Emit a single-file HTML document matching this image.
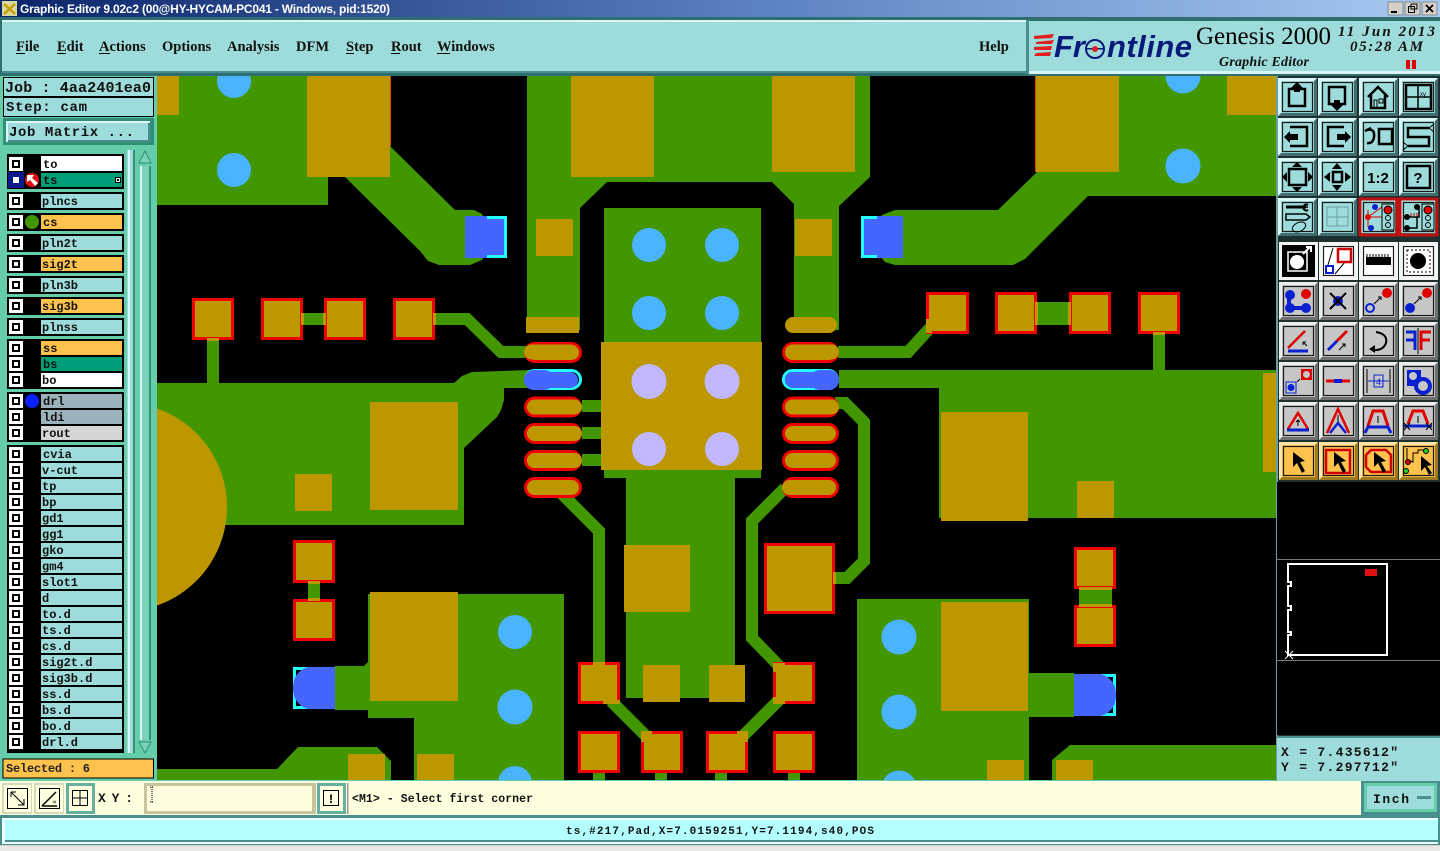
<!DOCTYPE html>
<html>
<head>
<meta charset="utf-8">
<title>Graphic Editor</title>
<style>
html,body{margin:0;padding:0;background:#d4d0c8;overflow:hidden}
svg{display:block}
.m{font-family:"Liberation Mono",monospace;font-weight:bold}
.s{font-family:"Liberation Serif",serif}
.mi{font-family:"Liberation Serif",serif;font-weight:bold;font-size:14.5px;fill:#111}
.l{font-family:"Liberation Mono",monospace;font-weight:bold;font-size:12px;fill:#111}
.i{fill:none;stroke:#000;stroke-width:2.5}
</style>
</head>
<body>
<svg width="1440" height="851" viewBox="0 0 1440 851" xmlns="http://www.w3.org/2000/svg">
<defs>
<linearGradient id="tg" x1="0" x2="1" y1="0" y2="0"><stop offset="0" stop-color="#0a246a"/><stop offset="0.55" stop-color="#5f86c4"/><stop offset="1" stop-color="#a6caf0"/></linearGradient>
<clipPath id="cv"><rect x="157" y="76" width="1119" height="704"/></clipPath>
<symbol id="bT" width="40" height="39" overflow="visible"><rect width="39" height="38" fill="#3f6f6f"/><polygon points="0,0 39,0 36,3 3,3 3,35 0,38" fill="#d9f5f5"/><rect x="3" y="3" width="33" height="32" fill="#9edcdc"/><rect x="4.5" y="4.5" width="30" height="29" fill="none" stroke="#1a1a1a" stroke-width="1.2"/></symbol>
<symbol id="bG" width="40" height="39" overflow="visible"><rect width="39" height="38" fill="#707070"/><polygon points="0,0 39,0 36,3 3,3 3,35 0,38" fill="#ececec"/><rect x="3" y="3" width="33" height="32" fill="#c6c6c6"/><rect x="4.5" y="4.5" width="30" height="29" fill="none" stroke="#1a1a1a" stroke-width="1.2"/></symbol>
<symbol id="bW" width="40" height="39" overflow="visible"><rect width="39" height="38" fill="#f4f4f4"/><rect x="3" y="3" width="33" height="32" fill="#fff"/><rect x="4.5" y="4.5" width="30" height="29" fill="none" stroke="#1a1a1a" stroke-width="1.2"/></symbol>
<symbol id="bO" width="40" height="39" overflow="visible"><rect width="39" height="38" fill="#a07a20"/><polygon points="0,0 39,0 36,3 3,3 3,35 0,38" fill="#ffe6a8"/><rect x="3" y="3" width="33" height="32" fill="#ffc24d"/><rect x="4.5" y="4.5" width="30" height="29" fill="none" stroke="#1a1a1a" stroke-width="1.2"/></symbol>
<symbol id="c" width="14" height="14"><rect width="14" height="14" fill="#fff"/><rect x="3" y="3" width="8" height="8" fill="#000"/><rect x="5" y="5" width="4" height="4" fill="#fff"/></symbol>
</defs>

<!-- page background -->
<rect width="1440" height="851" fill="#66cdaa"/>

<!-- title bar -->
<rect width="1440" height="17" fill="url(#tg)"/>
<rect x="2" y="1" width="15" height="15" fill="#d8d8a0"/>
<path d="M4 4 L15 14 M15 4 L4 14" stroke="#c8a000" stroke-width="2.5"/>
<text x="20" y="13" font-family="Liberation Sans, sans-serif" font-weight="bold" font-size="12" fill="#fff" textLength="370">Graphic Editor 9.02c2 (00@HY-HYCAM-PC041 - Windows, pid:1520)</text>
<g>
<rect x="1388" y="2" width="15" height="13" fill="#d4d0c8" stroke="#555" stroke-width="0.5"/><rect x="1391" y="11" width="6" height="2" fill="#000"/>
<rect x="1405" y="2" width="15" height="13" fill="#d4d0c8" stroke="#555" stroke-width="0.5"/><rect x="1408.5" y="6.5" width="6" height="6" fill="none" stroke="#000"/><rect x="1411" y="4" width="6" height="5" fill="none" stroke="#000"/>
<rect x="1422" y="2" width="15" height="13" fill="#d4d0c8" stroke="#555" stroke-width="0.5"/><path d="M1426 5 L1433 12 M1433 5 L1426 12" stroke="#000" stroke-width="1.8"/>
</g>

<!-- menu bar -->
<rect x="0" y="17" width="1440" height="59" fill="#2f6f6f"/>
<rect x="2" y="20" width="1024" height="53" fill="#9edcdc"/>
<rect x="2" y="20" width="1024" height="2" fill="#d9f5f5"/>
<rect x="2" y="71" width="1024" height="2" fill="#4a8f8f"/>
<rect x="1029" y="21" width="411" height="52" fill="#9edcdc"/>
<rect x="1029" y="71" width="411" height="3" fill="#d9f5f5"/>
<rect x="1026" y="20" width="3" height="54" fill="#4a8f8f"/>
<g class="mi">
<text class="mi" x="16" y="51">File</text><rect x="16" y="53" width="9" height="1" fill="#000"/>
<text class="mi" x="57" y="51">Edit</text><rect x="57" y="53" width="9" height="1" fill="#000"/>
<text class="mi" x="99" y="51">Actions</text><rect x="99" y="53" width="11" height="1" fill="#000"/>
<text class="mi" x="162" y="51">Options</text>
<text class="mi" x="227" y="51">Analysis</text>
<text class="mi" x="296" y="51">DFM</text>
<text class="mi" x="346" y="51">Step</text><rect x="346" y="53" width="8" height="1" fill="#000"/>
<text class="mi" x="391" y="51">Rout</text><rect x="391" y="53" width="9" height="1" fill="#000"/>
<text class="mi" x="437" y="51">Windows</text><rect x="437" y="53" width="13" height="1" fill="#000"/>
<text class="mi" x="979" y="51">Help</text>
</g>

<!-- logo -->
<g fill="#e32020">
<polygon points="1034,36 1054,34 1052,38 1034,39"/>
<polygon points="1036,42 1054,40 1052,44 1036,44"/>
<polygon points="1034,47 1052,46 1051,50 1034,50"/>
<polygon points="1036,53 1051,52 1050,56 1034,56"/>
</g>
<text x="1054" y="57" font-family="Liberation Sans, sans-serif" font-weight="bold" font-style="italic" font-size="31" fill="#0a1a7a">Fr</text>
<circle cx="1095" cy="49" r="9" fill="none" stroke="#0a1a7a" stroke-width="2"/>
<rect x="1085" y="48" width="20" height="1.5" fill="#0a1a7a"/>
<circle cx="1095" cy="49" r="3" fill="#e32020"/>
<text x="1107" y="57" font-family="Liberation Sans, sans-serif" font-weight="bold" font-style="italic" font-size="31" fill="#0a1a7a" textLength="85">ntline</text>
<text x="1196" y="44" class="s" font-size="25" fill="#000" textLength="135">Genesis 2000</text>
<text x="1219" y="66" class="s" font-size="14" font-weight="bold" font-style="italic" fill="#111" textLength="90">Graphic Editor</text>
<text x="1338" y="36" class="s" font-size="15" font-weight="bold" font-style="italic" fill="#111" textLength="97">11 Jun 2013</text>
<text x="1350" y="51" class="s" font-size="15" font-weight="bold" font-style="italic" fill="#111" textLength="73">05:28 AM</text>
<rect x="1406" y="60" width="4" height="9" fill="#e00000"/><rect x="1412" y="60" width="4" height="9" fill="#e00000"/>

<!-- left panel -->
<rect x="0" y="76" width="157" height="705" fill="#66cdaa"/>
<rect x="3" y="77" width="151" height="40" fill="#000"/>
<rect x="4" y="78" width="149" height="18" fill="#9edcdc"/>
<rect x="4" y="98" width="149" height="18" fill="#9edcdc"/>
<text x="5" y="92" class="m" font-size="15" fill="#111" textLength="146">Job : 4aa2401ea0</text>
<text x="6" y="111" class="m" font-size="14" fill="#111" textLength="81">Step: cam</text>
<rect x="3" y="118" width="151" height="27" fill="#2f8f78"/>
<rect x="6" y="121" width="144" height="21" fill="#d9f5f5"/>
<rect x="8" y="123" width="142" height="19" fill="#4a8f8f"/>
<rect x="8" y="123" width="140" height="17" fill="#9edcdc"/>
<text x="9" y="136" class="m" font-size="14" fill="#111" textLength="125">Job Matrix ...</text>

<!-- list frame -->
<rect x="4" y="149" width="124" height="604" fill="#66cdaa"/>
<rect x="127" y="150" width="8" height="603" fill="#9edcdc"/>
<rect x="128" y="150" width="2" height="603" fill="#d9f5f5"/>
<rect x="133" y="150" width="2" height="603" fill="#2f8f78"/>
<rect x="136" y="150" width="18" height="603" fill="#66cdaa"/>
<rect x="140" y="166" width="11" height="574" fill="#7ad2b8"/>
<rect x="140" y="166" width="2" height="574" fill="#d9f5f5"/>
<rect x="149" y="166" width="2" height="574" fill="#2f8f78"/>
<polygon points="145,151 151,163 139,163" fill="#7ad2b8" stroke="#2f8f78"/>
<polygon points="145,753 151,742 139,742" fill="#7ad2b8" stroke="#2f8f78"/>

<!-- layer groups -->
<g fill="#000">
<rect x="7" y="154" width="117" height="35"/>
<rect x="7" y="192" width="117" height="18"/>
<rect x="7" y="213" width="117" height="18"/>
<rect x="7" y="234" width="117" height="18"/>
<rect x="7" y="255" width="117" height="18"/>
<rect x="7" y="276" width="117" height="18"/>
<rect x="7" y="297" width="117" height="18"/>
<rect x="7" y="318" width="117" height="18"/>
<rect x="7" y="339" width="117" height="50"/>
<rect x="7" y="392" width="117" height="50"/>
<rect x="7" y="445" width="117" height="308"/>
</g>
<g>
<rect x="41" y="156" width="81" height="15" fill="#fff"/>
<rect x="41" y="173" width="81" height="14" fill="#009e78"/>
<rect x="41" y="194" width="81" height="14" fill="#9edcdc"/>
<rect x="41" y="215" width="81" height="14" fill="#ffc24d"/>
<rect x="41" y="236" width="81" height="14" fill="#9edcdc"/>
<rect x="41" y="257" width="81" height="14" fill="#ffc24d"/>
<rect x="41" y="278" width="81" height="14" fill="#9edcdc"/>
<rect x="41" y="299" width="81" height="14" fill="#ffc24d"/>
<rect x="41" y="320" width="81" height="14" fill="#9edcdc"/>
<rect x="41" y="341" width="81" height="14" fill="#ffc24d"/>
<rect x="41" y="357" width="81" height="14" fill="#009e78"/>
<rect x="41" y="373" width="81" height="14" fill="#fff"/>
<rect x="41" y="394" width="81" height="14" fill="#9cb2bb"/>
<rect x="41" y="410" width="81" height="14" fill="#9cb2bb"/>
<rect x="41" y="426" width="81" height="14" fill="#d6d6d6"/>
<rect x="41" y="447" width="81" height="14" fill="#9edcdc"/>
<rect x="41" y="463" width="81" height="14" fill="#9edcdc"/>
<rect x="41" y="479" width="81" height="14" fill="#9edcdc"/>
<rect x="41" y="495" width="81" height="14" fill="#9edcdc"/>
<rect x="41" y="511" width="81" height="14" fill="#9edcdc"/>
<rect x="41" y="527" width="81" height="14" fill="#9edcdc"/>
<rect x="41" y="543" width="81" height="14" fill="#9edcdc"/>
<rect x="41" y="559" width="81" height="14" fill="#9edcdc"/>
<rect x="41" y="575" width="81" height="14" fill="#9edcdc"/>
<rect x="41" y="591" width="81" height="14" fill="#9edcdc"/>
<rect x="41" y="607" width="81" height="14" fill="#9edcdc"/>
<rect x="41" y="623" width="81" height="14" fill="#9edcdc"/>
<rect x="41" y="639" width="81" height="14" fill="#9edcdc"/>
<rect x="41" y="655" width="81" height="14" fill="#9edcdc"/>
<rect x="41" y="671" width="81" height="14" fill="#9edcdc"/>
<rect x="41" y="687" width="81" height="14" fill="#9edcdc"/>
<rect x="41" y="703" width="81" height="14" fill="#9edcdc"/>
<rect x="41" y="719" width="81" height="14" fill="#9edcdc"/>
<rect x="41" y="735" width="81" height="14" fill="#9edcdc"/>
</g>
<g>
<use href="#c" x="9" y="157"/><use href="#c" x="9" y="173"/><use href="#c" x="9" y="194"/><use href="#c" x="9" y="215"/><use href="#c" x="9" y="236"/><use href="#c" x="9" y="257"/><use href="#c" x="9" y="278"/><use href="#c" x="9" y="299"/><use href="#c" x="9" y="320"/><use href="#c" x="9" y="341"/><use href="#c" x="9" y="357"/><use href="#c" x="9" y="373"/><use href="#c" x="9" y="394"/><use href="#c" x="9" y="410"/><use href="#c" x="9" y="426"/><use href="#c" x="9" y="447"/><use href="#c" x="9" y="463"/><use href="#c" x="9" y="479"/><use href="#c" x="9" y="495"/><use href="#c" x="9" y="511"/><use href="#c" x="9" y="527"/><use href="#c" x="9" y="543"/><use href="#c" x="9" y="559"/><use href="#c" x="9" y="575"/><use href="#c" x="9" y="591"/><use href="#c" x="9" y="607"/><use href="#c" x="9" y="623"/><use href="#c" x="9" y="639"/><use href="#c" x="9" y="655"/><use href="#c" x="9" y="671"/><use href="#c" x="9" y="687"/><use href="#c" x="9" y="703"/><use href="#c" x="9" y="719"/><use href="#c" x="9" y="735"/>
</g>
<!-- ts selected box & icons -->
<rect x="8" y="172" width="16" height="16" fill="#0a1a8a"/><rect x="13" y="177" width="6" height="6" fill="#fff"/>
<circle cx="32" cy="180" r="7" fill="#e01010"/>
<polygon points="27,175 34,175 32,178 38,183 35,186 30,180 27,182" fill="#fff"/>
<circle cx="32" cy="222" r="7" fill="#429600"/>
<circle cx="32" cy="401" r="7" fill="#0a20ff"/>
<rect x="115" y="177" width="6" height="6" fill="#000"/><rect x="116" y="178" width="4" height="4" fill="#eee"/><rect x="117" y="179" width="2" height="2" fill="#000"/>
<g>
<text class="l" x="43" y="168">to</text>
<text class="l" x="43" y="184">ts</text>
<text class="l" x="42" y="205">plncs</text>
<text class="l" x="43" y="226">cs</text>
<text class="l" x="42" y="247">pln2t</text>
<text class="l" x="42" y="268">sig2t</text>
<text class="l" x="42" y="289">pln3b</text>
<text class="l" x="42" y="310">sig3b</text>
<text class="l" x="42" y="331">plnss</text>
<text class="l" x="43" y="352">ss</text>
<text class="l" x="43" y="368">bs</text>
<text class="l" x="42" y="384">bo</text>
<text class="l" x="43" y="405">drl</text>
<text class="l" x="43" y="421">ldi</text>
<text class="l" x="42" y="437">rout</text>
<text class="l" x="43" y="458">cvia</text>
<text class="l" x="42" y="474">v-cut</text>
<text class="l" x="42" y="490">tp</text>
<text class="l" x="42" y="506">bp</text>
<text class="l" x="42" y="522">gd1</text>
<text class="l" x="42" y="538">gg1</text>
<text class="l" x="42" y="554">gko</text>
<text class="l" x="42" y="570">gm4</text>
<text class="l" x="42" y="586">slot1</text>
<text class="l" x="42" y="602">d</text>
<text class="l" x="42" y="618">to.d</text>
<text class="l" x="42" y="634">ts.d</text>
<text class="l" x="42" y="650">cs.d</text>
<text class="l" x="42" y="666">sig2t.d</text>
<text class="l" x="42" y="682">sig3b.d</text>
<text class="l" x="42" y="698">ss.d</text>
<text class="l" x="42" y="714">bs.d</text>
<text class="l" x="42" y="730">bo.d</text>
<text class="l" x="42" y="746">drl.d</text>
</g>
<rect x="3" y="759" width="150.500" height="19" fill="#ffc24d" stroke="#000" stroke-width="1"/>
<text x="6" y="772" class="m" font-size="12" fill="#222" textLength="84">Selected : 6</text>

<!-- CANVAS -->
<rect x="157" y="76" width="1119" height="704" fill="#000"/>
<g clip-path="url(#cv)">
<!-- green -->
<g fill="#429600">
<polygon points="157,76 390,76 390,146 455,210 474,210 482,214 487,225 487,250 482,260 470,265 439,265 428,261 420,251 345,177 328,177 328,205 157,205"/>
<polygon points="527,76 870,76 870,177 839,206 839,330 794,330 794,204 772,182 607,182 580,208 580,330 527,330"/>
<rect x="604" y="208" width="157" height="135"/>
<polygon points="157,383 454,383 462,376 472,372 530,370 530,388 504,388 504,400 501,410 497,417 464,448 464,525 157,525"/>
<polygon points="1037,172 1276,172 1276,196 1088,196 1025,259 1013,265 895,265 885,262 878,254 877,225 882,215 895,210 998,210"/>
<rect x="1037" y="76" width="239" height="120"/>
<rect x="839" y="370" width="437" height="18"/>
<rect x="939" y="370" width="337" height="148"/>
<rect x="604" y="470" width="157" height="8"/>
<rect x="626" y="478" width="109" height="220"/>
<polygon points="368,594 564,594 564,780 414,780 414,718 368,718 368,710 335,710 335,666 364,666 368,662"/>
<polygon points="157,769 277,769 298,747 377,747 391,761 391,780 157,780"/>
<polygon points="857,599 1029,599 1029,673 1074,673 1074,717 1029,717 1029,780 857,780"/>
<polygon points="1052,760 1070,745 1276,745 1276,780 1052,780"/>
<rect x="1079" y="589" width="33" height="16"/>
<rect x="308" y="583" width="12" height="16"/>
<rect x="207" y="340" width="12" height="43"/>
<rect x="303" y="313" width="21" height="12"/>
<rect x="1037" y="302" width="32" height="23"/>
<rect x="1153" y="334" width="12" height="36"/>
<rect x="582" y="400" width="19" height="12"/>
<rect x="582" y="427" width="19" height="12"/>
<rect x="582" y="454" width="19" height="12"/>
<rect x="593" y="773" width="12" height="7"/><rect x="655" y="773" width="12" height="7"/><rect x="715" y="773" width="12" height="7"/><rect x="788" y="773" width="12" height="7"/>
</g>
<g fill="none" stroke="#429600" stroke-width="12" stroke-linejoin="miter">
<polyline points="435,319 467,319 501,352 530,352"/>
<polyline points="560,492 599,531 599,670"/>
<polyline points="785,488 752,521 752,638 785,672"/>
<polyline points="835,578 847,578 864,561 864,422 845,403 835,403"/>
<polyline points="611,701 647,737"/>
<polyline points="779,700 742,737"/>
<polyline points="838,352 908,352 930,328"/>
</g>

<!-- red pads -->
<g fill="#bd9700" stroke="#f00000" stroke-width="3">
<rect x="193.500" y="299.500" width="39" height="39"/>
<rect x="262.500" y="299.500" width="39" height="39"/>
<rect x="325.500" y="299.500" width="39" height="39"/>
<rect x="394.500" y="299.500" width="39" height="39"/>
<rect x="927.500" y="293.500" width="40" height="39"/>
<rect x="996.500" y="293.500" width="39" height="39"/>
<rect x="1070.500" y="293.500" width="39" height="39"/>
<rect x="1139.500" y="293.500" width="39" height="39"/>
<rect x="294.500" y="541.500" width="39" height="40"/>
<rect x="294.500" y="600.500" width="39" height="39"/>
<rect x="1075.500" y="548.500" width="39" height="39"/>
<rect x="1075.500" y="606.500" width="39" height="39"/>
<rect x="765.500" y="544.500" width="68" height="68"/>
<rect x="579.500" y="663.500" width="39" height="39"/>
<rect x="774.500" y="663.500" width="39" height="39"/>
<rect x="579.500" y="732.500" width="39" height="39"/>
<rect x="642.500" y="732.500" width="39" height="39"/>
<rect x="707.500" y="732.500" width="39" height="39"/>
<rect x="774.500" y="732.500" width="39" height="39"/>
<rect x="525.500" y="343.500" width="55" height="18" rx="9"/>
<rect x="525.500" y="398" width="55" height="18" rx="9"/>
<rect x="525.500" y="424.500" width="55" height="18" rx="9"/>
<rect x="525.500" y="451.500" width="55" height="18" rx="9"/>
<rect x="525.500" y="478.500" width="55" height="18" rx="9"/>
<rect x="783.500" y="343.500" width="54" height="18" rx="9"/>
<rect x="783.500" y="398" width="54" height="18" rx="9"/>
<rect x="783.500" y="424.500" width="54" height="18" rx="9"/>
<rect x="783.500" y="451.500" width="54" height="18" rx="9"/>
<rect x="783.500" y="478.500" width="54" height="18" rx="9"/>
</g>

<!-- tan copper -->
<rect x="306" y="76" width="85" height="102" fill="none"/>
<rect x="390" y="76" width="1" height="70" fill="#e04000"/>
<rect x="1035" y="76" width="1" height="96" fill="#e04000"/>
<g fill="#bd9700">
<rect x="157" y="76" width="22" height="39"/>
<rect x="307" y="76" width="83" height="101"/>
<rect x="571" y="76" width="83" height="101"/>
<rect x="772" y="76" width="83" height="96"/>
<rect x="1036" y="76" width="83" height="96"/>
<rect x="1227" y="76" width="49" height="39"/>
<rect x="536" y="219" width="37" height="37"/>
<rect x="795" y="219" width="37" height="37"/>
<rect x="526" y="317" width="53" height="16"/>
<rect x="785" y="317" width="52" height="16" rx="8"/>
<rect x="601" y="342" width="161" height="128"/>
<rect x="370" y="402" width="88" height="108"/>
<rect x="295" y="474" width="37" height="37"/>
<rect x="941" y="412" width="87" height="109"/>
<rect x="1077" y="481" width="37" height="37"/>
<rect x="1263" y="373" width="13" height="99"/>
<rect x="624" y="545" width="66" height="67"/>
<rect x="370" y="592" width="88" height="109"/>
<rect x="941" y="602" width="87" height="109"/>
<rect x="643" y="665" width="37" height="37"/>
<rect x="709" y="665" width="36" height="37"/>
<rect x="348" y="754" width="37" height="26"/>
<rect x="417" y="754" width="37" height="26"/>
<rect x="987" y="760" width="37" height="20"/>
<rect x="1056" y="760" width="37" height="20"/>
<circle cx="122.700" cy="507" r="104.300"/>
<rect x="207" y="338" width="12" height="3"/>
<rect x="1153" y="332" width="12" height="3"/>
<rect x="926" y="319" width="6" height="14"/>
<rect x="301" y="313" width="3" height="12"/>
<rect x="323" y="313" width="3" height="12"/>
<rect x="433" y="313" width="3" height="12"/>
<rect x="1035" y="302" width="3" height="23"/>
<rect x="1068" y="302" width="3" height="23"/>
<rect x="308" y="581" width="12" height="3"/>
<rect x="308" y="598" width="12" height="3"/>
<rect x="1079" y="587" width="33" height="3"/>
<rect x="1079" y="604" width="33" height="3"/>
<rect x="773" y="663" width="12" height="9"/>
<rect x="773" y="697" width="12" height="7"/>
<rect x="603" y="700" width="17" height="4"/>
<rect x="641" y="731" width="11" height="11"/>
<rect x="737" y="731" width="11" height="11"/>
<rect x="833" y="572" width="3" height="12"/>
<rect x="593" y="662" width="12" height="3"/>
<!-- capsule fills that overlap the red outline -->
<rect x="524" y="344.500" width="54" height="15" rx="7.500"/>
<rect x="527" y="399.500" width="55" height="15" rx="7.500"/>
<rect x="527" y="426" width="55" height="15" rx="7.500"/>
<rect x="527" y="453" width="55" height="15" rx="7.500"/>
<rect x="785" y="344.500" width="54" height="15" rx="7.500"/>
<rect x="785" y="399.500" width="54" height="15" rx="7.500"/>
<rect x="782" y="480" width="54" height="15" rx="7.500"/>
</g>

<!-- selected cyan / blue -->
<g fill="none" stroke="#22ffff" stroke-width="3">
<rect x="466.500" y="217.500" width="39" height="39"/>
<rect x="862.500" y="217.500" width="39" height="39"/>
<rect x="525.500" y="370.500" width="55" height="18" rx="9"/>
<rect x="783.500" y="370.500" width="54" height="18" rx="9"/>
<rect x="294.500" y="668.500" width="39" height="39"/>
<rect x="1075.500" y="675.500" width="39" height="39"/>
</g>
<g fill="#4466ff">
<path d="M465,216 H487 V219 H504 V255 H487 V258 H465 Z"/>
<path d="M903,216 H877 V219 H864 V255 H877 V258 H903 Z"/>
<rect x="524" y="372" width="54" height="16" rx="8"/>
<rect x="524" y="370" width="30" height="20" rx="10"/>
<rect x="785" y="372" width="54" height="16" rx="8"/>
<rect x="810" y="370" width="29" height="20" rx="10"/>
<path d="M335,667 L308,667 Q293,672 293,688 Q293,704 308,709 L335,709 Z"/>
<path d="M1074,674 L1101,674 Q1116,679 1116,695 Q1116,711 1101,716 L1074,716 Z"/>
</g>

<!-- vias -->
<g fill="#4ab4ff">
<circle cx="234" cy="81" r="17"/><circle cx="234" cy="170" r="17"/>
<circle cx="649" cy="245" r="17"/><circle cx="722" cy="245" r="17"/>
<circle cx="649" cy="313" r="17"/><circle cx="722" cy="313" r="17"/>
<circle cx="1183" cy="76" r="17.500"/><circle cx="1183" cy="166" r="17.500"/>
<circle cx="515" cy="632" r="17"/><circle cx="515" cy="707" r="17.500"/><circle cx="515" cy="783" r="17"/>
<circle cx="899" cy="637" r="17.500"/><circle cx="899" cy="712" r="17.500"/><circle cx="899" cy="788" r="17.500"/>
</g>
<g fill="#c2b8ff">
<circle cx="649" cy="381.500" r="17.500"/><circle cx="722" cy="381.500" r="17.500"/>
<circle cx="649" cy="449" r="17"/><circle cx="722" cy="449" r="17"/>
</g>
</g>

<!-- right panel -->
<rect x="1276" y="76" width="164" height="705" fill="#1d2f2f"/>
<rect x="1276" y="76" width="2" height="705" fill="#66a0a0"/>

<g>
<use href="#bT" x="1278" y="78"/><use href="#bT" x="1318" y="78"/><use href="#bT" x="1359" y="78"/><use href="#bT" x="1399" y="78"/>
<use href="#bT" x="1278" y="118"/><use href="#bT" x="1318" y="118"/><use href="#bT" x="1359" y="118"/><use href="#bT" x="1399" y="118"/>
<use href="#bT" x="1278" y="158"/><use href="#bT" x="1318" y="158"/><use href="#bT" x="1359" y="158"/><use href="#bT" x="1399" y="158"/>
<use href="#bT" x="1278" y="198"/><use href="#bT" x="1318" y="198"/><use href="#bT" x="1359" y="198"/><use href="#bT" x="1399" y="198"/>
<use href="#bW" x="1279" y="242"/><use href="#bW" x="1319" y="242"/><use href="#bW" x="1359" y="242"/><use href="#bW" x="1399" y="242"/>
<use href="#bG" x="1279" y="282"/><use href="#bG" x="1319" y="282"/><use href="#bG" x="1359" y="282"/><use href="#bG" x="1399" y="282"/>
<use href="#bG" x="1279" y="322"/><use href="#bG" x="1319" y="322"/><use href="#bG" x="1359" y="322"/><use href="#bG" x="1399" y="322"/>
<use href="#bG" x="1279" y="362"/><use href="#bG" x="1319" y="362"/><use href="#bG" x="1359" y="362"/><use href="#bG" x="1399" y="362"/>
<use href="#bG" x="1279" y="402"/><use href="#bG" x="1319" y="402"/><use href="#bG" x="1359" y="402"/><use href="#bG" x="1399" y="402"/>
<use href="#bO" x="1279" y="442"/><use href="#bO" x="1319" y="442"/><use href="#bO" x="1359" y="442"/><use href="#bO" x="1399" y="442"/>
</g>

<!-- icons row 1 -->
<g transform="translate(1278,78)"><rect class="i" x="11" y="11" width="16" height="17"/><polygon points="19,4 25,10 22,10 22,14 16,14 16,10 13,10"/></g>
<g transform="translate(1318,78)"><rect class="i" x="11" y="9" width="16" height="17"/><polygon points="19,33 25,27 22,27 22,22 16,22 16,27 13,27"/></g>
<g transform="translate(1359,78)"><path class="i" d="M9 19 L19 9 L29 19 M12 17 V30 H26 V17" stroke-width="1.8"/><rect x="15" y="22" width="3" height="8" fill="none" stroke="#000"/><rect x="20" y="21" width="4" height="4" fill="none" stroke="#000"/></g>
<g transform="translate(1399,78)"><rect class="i" x="7" y="7" width="25" height="24"/><path d="M19 8 V30 M8 19 H31" stroke="#000" stroke-width="1.5"/><text x="21" y="18" font-family="Liberation Sans,sans-serif" font-size="6" fill="#000">xy</text></g>
<!-- row 2 -->
<g transform="translate(1278,118)"><path class="i" d="M12 9 H29 V28 H12"/><polygon points="6,19 12,13 12,16 20,16 20,22 12,22 12,25"/></g>
<g transform="translate(1318,118)"><path class="i" d="M26 9 H10 V28 H26"/><polygon points="33,19 27,13 27,16 19,16 19,22 27,22 27,25"/></g>
<g transform="translate(1359,118)"><rect class="i" x="20" y="11" width="13" height="15"/><path d="M6 13 L12 10 M8 12 Q16 10 15 19 Q14 26 8 25" fill="none" stroke="#000" stroke-width="2.5"/></g>
<g transform="translate(1399,118)"><path class="i" d="M30 10 H9 V19 H30 V28 H9"/><path d="M30 10 L35 6 M30 10 L35 14 M9 28 L4 24 M9 28 L4 32" stroke="#000" fill="none"/></g>
<!-- row 3 -->
<g transform="translate(1278,158)"><rect class="i" x="11" y="11" width="17" height="16"/><polygon points="19,4 24,9 14,9"/><polygon points="19,34 24,29 14,29"/><polygon points="4,19 9,14 9,24"/><polygon points="35,19 30,14 30,24"/></g>
<g transform="translate(1318,158)"><rect class="i" x="15" y="14" width="9" height="10"/><polygon points="19,5 24,11 14,11"/><polygon points="19,33 24,27 14,27"/><polygon points="6,19 12,14 12,24"/><polygon points="33,19 27,14 27,24"/></g>
<g transform="translate(1359,158)"><text x="19" y="25" text-anchor="middle" font-family="Liberation Sans,sans-serif" font-weight="bold" font-size="15" fill="#000">1:2</text></g>
<g transform="translate(1399,158)"><rect class="i" x="8" y="8" width="23" height="22"/><text x="19" y="25" text-anchor="middle" font-family="Liberation Sans,sans-serif" font-weight="bold" font-size="15" fill="#000">?</text></g>
<!-- row 4 -->
<g transform="translate(1278,198)"><path d="M8 9 H30 M8 16 H28 L32 19 L28 22 H8 Z" fill="none" stroke="#000" stroke-width="1.5"/><path d="M8 9 H28" stroke="#000" stroke-width="3"/><path d="M30 7 a3 3 0 1 0 0 5" fill="none" stroke="#000" stroke-width="2"/><ellipse cx="21" cy="29" rx="7" ry="4.500" fill="none" stroke="#000" transform="rotate(-25 21 29)"/></g>
<g transform="translate(1318,198)"><path d="M9 9 H30 M9 19 H30 M9 28 H30 M9 9 V28 M19 9 V28 M30 9 V28" stroke="#6c9c9c" fill="none"/></g>
<g transform="translate(1359,198)"><rect x="1" y="1" width="37" height="36" fill="none" stroke="#c01010" stroke-width="3"/><path d="M9 12 V29 M9 19 H23 V30 M9 19 L23 9" stroke="#d00000" fill="none"/><circle cx="9" cy="19" r="3" fill="#e00000"/><circle cx="16" cy="9" r="3" fill="#0a20d0"/><circle cx="12" cy="30" r="3" fill="#0a20d0"/><rect x="23" y="6" width="12" height="26" fill="#9edcdc" stroke="#000"/><circle cx="29" cy="12" r="4" fill="#e00000" stroke="#000"/><circle cx="29" cy="20" r="2.500" fill="none" stroke="#000"/><circle cx="29" cy="27" r="2.500" fill="none" stroke="#000"/></g>
<g transform="translate(1399,198)"><rect x="1" y="1" width="37" height="36" fill="none" stroke="#c01010" stroke-width="3"/><path d="M8 19 H20 V9 M8 30 H18 V19" stroke="#000" fill="none" stroke-width="1.5"/><circle cx="8" cy="19" r="3"/><circle cx="18" cy="9" r="3"/><circle cx="8" cy="30" r="3"/><path d="M12 15 V18 M15 15 V18 M18 15 V18" stroke="#d00000"/><rect x="23" y="6" width="12" height="26" fill="#9edcdc" stroke="#000"/><circle cx="29" cy="12" r="4" fill="#e00000" stroke="#000"/><circle cx="29" cy="20" r="2.500" fill="none" stroke="#000"/><circle cx="29" cy="27" r="2.500" fill="none" stroke="#000"/></g>

<!-- white row -->
<g transform="translate(1279,242)"><rect x="3" y="3" width="33" height="32" fill="#000"/><rect x="9" y="10" width="19" height="19" fill="none" stroke="#fff" stroke-width="1.5"/><circle cx="18" cy="20" r="7" fill="#fff"/><path d="M24 12 L31 5 M27 5 H32 V10" stroke="#fff" stroke-width="2" fill="none"/></g>
<g transform="translate(1319,242)"><path d="M14 6 L8 26 M31 14 L16 32" stroke="#000"/><rect x="19" y="7" width="13" height="13" fill="#fff" stroke="#d00000" stroke-width="2.500"/><rect x="7" y="24" width="7" height="7" fill="#fff" stroke="#0a20d0" stroke-width="2"/></g>
<g transform="translate(1359,242)"><rect x="7" y="15" width="25" height="8" fill="#000"/><path d="M8 12 V16 M11 12 V16 M14 12 V16 M17 12 V16 M20 12 V16 M23 12 V16 M26 12 V16 M29 12 V16" stroke="#000"/></g>
<g transform="translate(1399,242)"><rect x="8" y="8" width="23" height="22" fill="none" stroke="#000" stroke-dasharray="2,2"/><circle cx="19" cy="19" r="8" fill="#000"/></g>
<!-- row 2 grey -->
<g transform="translate(1279,282)"><path d="M10 13 V26 H26" stroke="#0a20d0" stroke-width="4" fill="none"/><circle cx="11" cy="13" r="5" fill="#0a20d0"/><circle cx="11" cy="26" r="5" fill="#0a20d0"/><circle cx="27" cy="26" r="5" fill="#0a20d0"/><circle cx="27" cy="12" r="5" fill="#e00000"/></g>
<g transform="translate(1319,282)"><circle cx="19" cy="19" r="5" fill="#0a20d0"/><path d="M11 11 L27 27 M27 11 L11 27" stroke="#000" stroke-width="2"/></g>
<g transform="translate(1359,282)"><circle cx="11" cy="26" r="4" fill="none" stroke="#0a20d0" stroke-width="2"/><circle cx="28" cy="11" r="5" fill="#e00000"/><path d="M15 22 L22 15 M19 15 H22 V18" stroke="#000" fill="none"/></g>
<g transform="translate(1399,282)"><circle cx="11" cy="26" r="5" fill="#0a20d0"/><circle cx="28" cy="11" r="5" fill="#e00000"/><path d="M15 22 L22 15 M19 15 H22 V18" stroke="#000" fill="none"/></g>
<!-- row 3 grey -->
<g transform="translate(1279,322)"><path d="M9 26 L26 9" stroke="#e00000" stroke-width="2.500"/><path d="M9 29 H29" stroke="#0a20d0" stroke-width="3"/><path d="M24 20 L28 24 M24 20 H27 M24 20 V23" stroke="#000"/></g>
<g transform="translate(1319,322)"><path d="M9 28 L18 19" stroke="#0a20d0" stroke-width="3"/><path d="M18 19 L28 9" stroke="#e00000" stroke-width="3"/><path d="M20 28 L26 22 M23 22 H26 V25" stroke="#000" fill="none"/></g>
<g transform="translate(1359,322)"><path d="M17 10 Q29 12 27 21 Q24 29 14 28" fill="none" stroke="#000" stroke-width="2"/><polygon points="10,27 16,23 16,31"/></g>
<g transform="translate(1399,322)"><path d="M19 6 V32" stroke="#000"/><path d="M7 10 H16 V28 M7 18 H15" stroke="#0a20d0" stroke-width="3" fill="none"/><path d="M32 10 H22 V28 M31 18 H23" stroke="#e00000" stroke-width="3" fill="none"/></g>
<!-- row 4 grey -->
<g transform="translate(1279,362)"><rect x="7" y="20" width="10" height="11" fill="none" stroke="#0a20d0"/><circle cx="12" cy="25.500" r="3.500" fill="#0a20d0"/><rect x="22" y="7" width="11" height="11" fill="#e00000"/><circle cx="27.500" cy="12.500" r="3.500" fill="#c6c6c6"/><path d="M18 20 L21 17" stroke="#000"/></g>
<g transform="translate(1319,362)"><path d="M7 19 H31" stroke="#e00000" stroke-width="3"/><rect x="15" y="17" width="8" height="4" fill="#0a20d0"/></g>
<g transform="translate(1359,362)"><path d="M8 7 V31 M31 7 V31" stroke="#000"/><path d="M9 19 H30" stroke="#0a20d0"/><rect x="15" y="13" width="9" height="12" fill="none" stroke="#0a20d0"/><text x="19.500" y="23" text-anchor="middle" font-family="Liberation Sans,sans-serif" font-size="9" fill="#0a20d0">4</text></g>
<g transform="translate(1399,362)"><rect x="8" y="8" width="14" height="16" fill="#0a20d0"/><circle cx="24" cy="24" r="7" fill="#c6c6c6" stroke="#0a20d0" stroke-width="4"/><circle cx="14" cy="14" r="4" fill="#c6c6c6"/></g>
<!-- row 5 grey -->
<g transform="translate(1279,402)"><path d="M9 27 L19 11 L29 27" fill="none" stroke="#e00000" stroke-width="2.500"/><path d="M8 28 H30" stroke="#0a20d0" stroke-width="3"/><path d="M19 18 V24 M17 20 L19 18 L21 20" stroke="#000" fill="none"/></g>
<g transform="translate(1319,402)"><path d="M8 31 L19 7 L30 31" fill="none" stroke="#e00000" stroke-width="2.500"/><path d="M11 31 L19 21 L27 31" fill="none" stroke="#0a20d0" stroke-width="2.500"/><path d="M19 13 V20" stroke="#000"/></g>
<g transform="translate(1359,402)"><path d="M9 24 L14 9 H24 L29 24" fill="none" stroke="#e00000" stroke-width="3"/><path d="M6 31 L9 25 H29 L32 31" fill="none" stroke="#0a20d0" stroke-width="3"/><path d="M19 14 V21" stroke="#000"/></g>
<g transform="translate(1399,402)"><path d="M9 22 L14 9 H24 L29 22" fill="none" stroke="#e00000" stroke-width="3"/><path d="M5 24 H33" stroke="#0a20d0" stroke-width="3"/><path d="M19 14 V21" stroke="#000"/><path d="M5 21 L11 28 M11 21 L5 28 M27 21 L33 28 M33 21 L27 28" stroke="#000"/></g>
<!-- orange row -->
<g transform="translate(1279,442)"><polygon points="14,10 14,25 18,21 23,31 26,29 21,20 26,19"/></g>
<g transform="translate(1319,442)"><rect x="7" y="8" width="24" height="23" fill="none" stroke="#d00000" stroke-width="2.500"/><polygon points="15,10 15,25 19,21 24,31 27,29 22,20 27,19"/></g>
<g transform="translate(1359,442)"><polygon points="12,8 27,8 32,13 32,30 12,30 7,25 7,13" fill="none" stroke="#d00000" stroke-width="2.500"/><polygon points="15,10 15,25 19,21 24,31 27,29 22,20 27,19"/></g>
<g transform="translate(1399,442)"><path d="M8 6 V18 M8 18 L14 20 V11 H19 V8 H27" stroke="#000" fill="none"/><circle cx="9" cy="20" r="2.500" fill="#d00000" stroke="#000"/><circle cx="27" cy="9" r="2.500" fill="#22cc33" stroke="#000"/><circle cx="7" cy="29" r="2.500" fill="#22cc33" stroke="#000"/><polygon points="22,14 22,29 26,25 30,33 33,31 28,24 33,23"/></g>

<!-- minimap -->
<rect x="1277" y="482" width="163" height="253" fill="#000"/>
<rect x="1277" y="559" width="163" height="1" fill="#777"/>
<rect x="1277" y="660" width="163" height="1" fill="#777"/>
<polygon points="1288,564 1387,564 1387,655 1288,655 1288,635 1291,635 1291,632 1288,632 1288,610 1291,610 1291,606 1288,606 1288,586 1291,586 1291,582 1288,582" fill="none" stroke="#fff" stroke-width="2"/>
<rect x="1365" y="569" width="12" height="7" fill="#e01010"/>
<path d="M1285 651 L1293 659 M1293 651 L1285 659" stroke="#fff"/>
<rect x="1277" y="736" width="163" height="45" fill="#9edcdc"/>
<rect x="1277" y="736" width="163" height="2" fill="#4a8f8f"/>
<text x="1281" y="756" class="m" font-size="13" fill="#111" textLength="117">X = 7.435612"</text>
<text x="1281" y="771" class="m" font-size="13" fill="#111" textLength="117">Y = 7.297712"</text>

<!-- bottom tool bar -->
<rect x="0" y="781" width="1440" height="70" fill="#d4d0c8"/>
<rect x="0" y="781" width="1440" height="34" fill="#ffffdf"/>
<rect x="2" y="783" width="30" height="31" fill="#d8d8b8"/>
<rect x="4" y="785" width="27" height="27" fill="#ffffdf"/>
<rect x="7.500" y="788.500" width="20" height="20" fill="none" stroke="#000"/>
<path d="M11 792 L24 805 M24 799 V805 H18 M11 792 H16 M11 792 V797" stroke="#000" fill="none"/>
<rect x="34" y="783" width="30" height="31" fill="#d8d8b8"/>
<rect x="36" y="785" width="27" height="27" fill="#ffffdf"/>
<rect x="39.500" y="788.500" width="20" height="20" fill="none" stroke="#000"/>
<path d="M42 806 L56 792 M42 806 H57" stroke="#000" stroke-width="1.500" fill="none"/>
<text x="52" y="804" font-family="Liberation Sans,sans-serif" font-size="7" fill="#000">∝</text>
<rect x="66" y="783" width="29" height="31" fill="#66b0a0"/>
<rect x="69" y="786" width="23" height="25" fill="#ffffdf"/>
<rect x="72.500" y="790.500" width="15" height="15" fill="none" stroke="#000"/>
<path d="M80 791 V805 M73 798 H87" stroke="#000"/>
<text x="98" y="802" class="m" font-size="13" fill="#111" textLength="35">X Y :</text>
<rect x="144" y="783" width="172" height="31" fill="#c8c49c"/>
<rect x="147" y="786" width="165" height="25" fill="#ffffdf"/>
<path d="M152 787 V802 M150 787 H154 M150 802 H154" stroke="#000" stroke-dasharray="1,1"/>
<rect x="317" y="783" width="29" height="31" fill="#66b0a0"/>
<rect x="320" y="786" width="23" height="25" fill="#ffffdf"/>
<rect x="323.500" y="790.500" width="15" height="15" fill="none" stroke="#000"/>
<text x="331" y="803" text-anchor="middle" class="m" font-size="13" fill="#000">!</text>
<rect x="347" y="783" width="1.500" height="31" fill="#999"/>
<text x="352" y="802" class="m" font-size="11.500" fill="#111" textLength="181">&lt;M1&gt; - Select first corner</text>
<rect x="1361" y="781" width="79" height="34" fill="#4a8f8f"/>
<rect x="1364" y="783" width="73" height="29" fill="#66cdaa"/>
<rect x="1367" y="786" width="67" height="23" fill="#9edcdc"/>
<text x="1373" y="803" class="m" font-size="13" fill="#111" textLength="36">Inch</text>
<rect x="1417" y="796" width="14" height="3" fill="#4a8f8f"/>

<!-- status bar -->
<rect x="0" y="815" width="1440" height="30" fill="#4a8f8f"/>
<rect x="2" y="818" width="1436" height="26" fill="#eaffff"/>
<rect x="5" y="820" width="1433" height="22" fill="#b4ffff"/>
<rect x="5" y="840" width="1433" height="2" fill="#4a8f8f"/>
<text x="720" y="834" text-anchor="middle" class="m" font-size="11" fill="#111" textLength="308">ts,#217,Pad,X=7.0159251,Y=7.1194,s40,POS</text>
<rect x="0" y="846" width="1440" height="5" fill="#e8e8e4"/>
</svg>
</body>
</html>
